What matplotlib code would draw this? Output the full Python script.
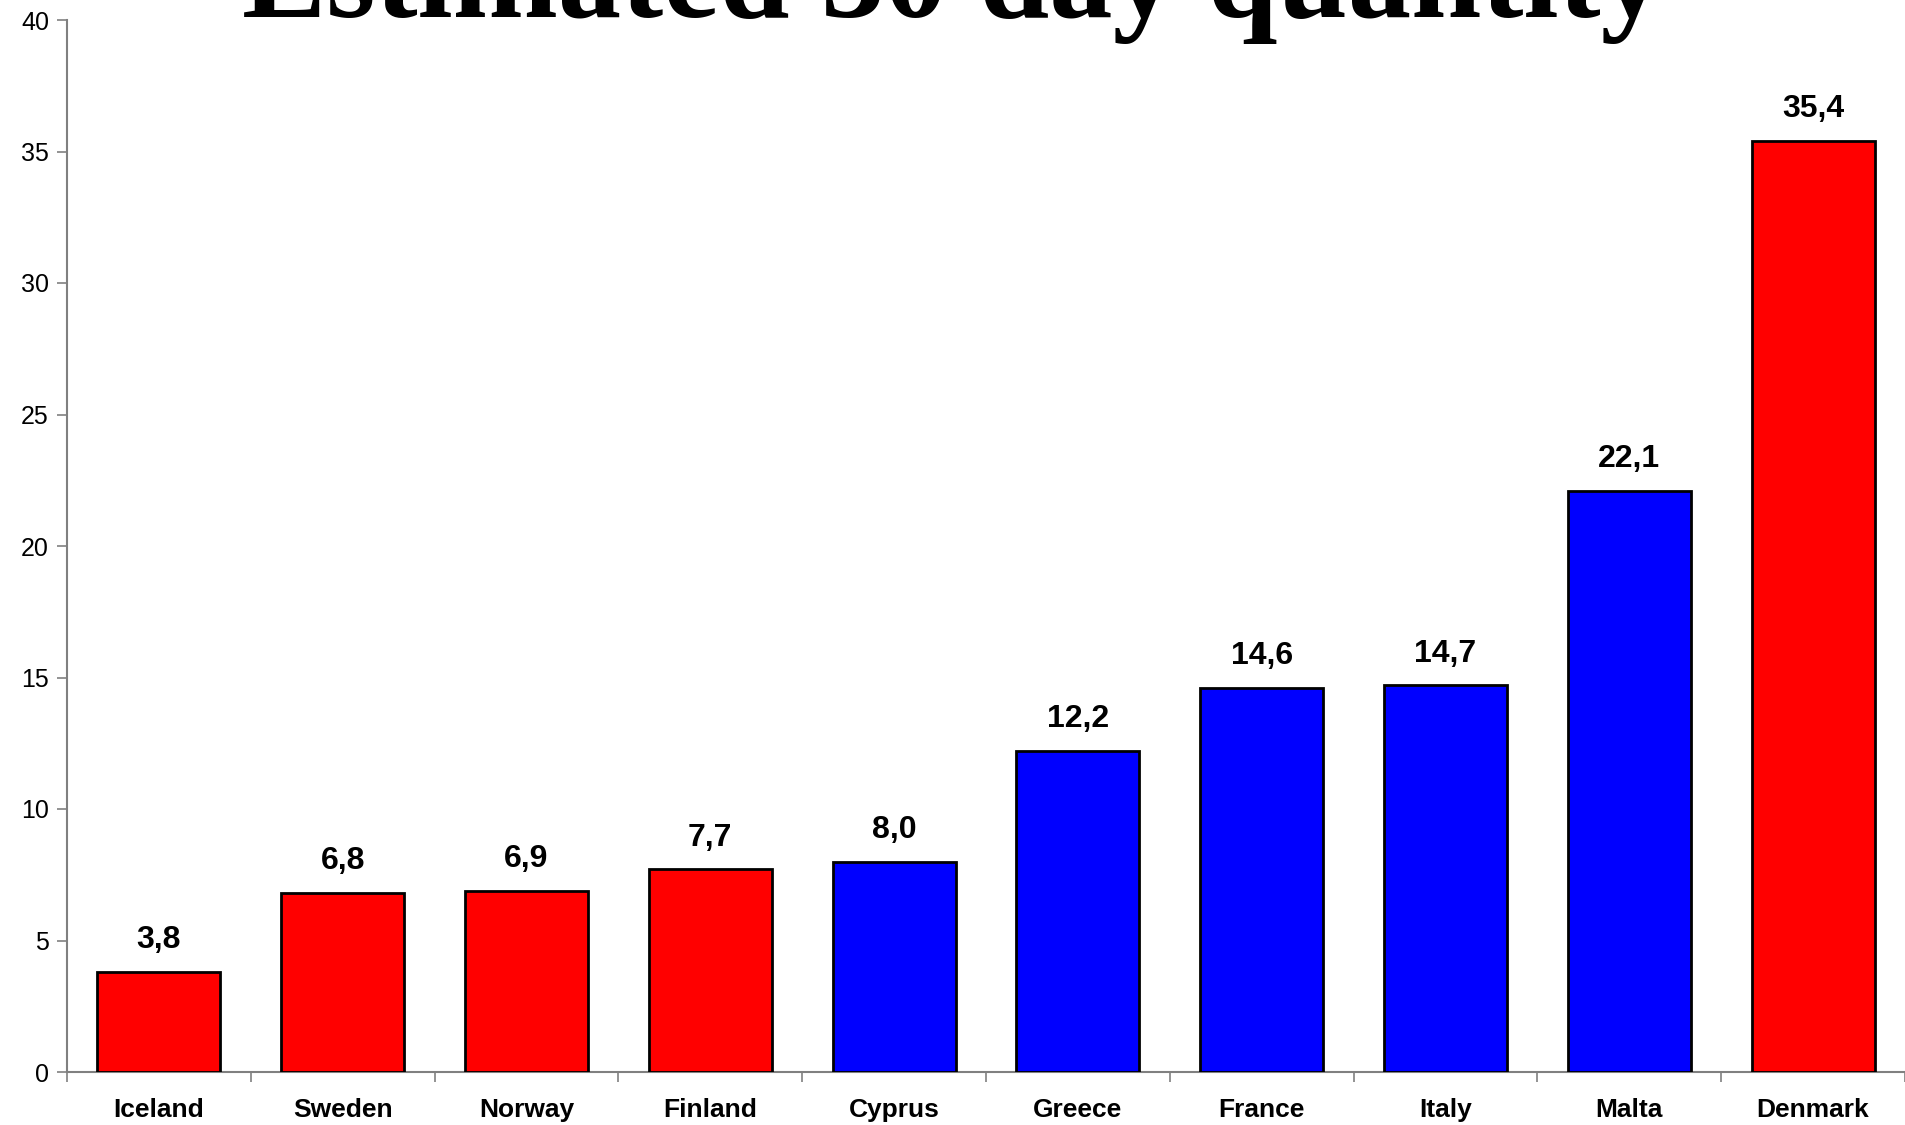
import matplotlib.pyplot as plt
from matplotlib.ticker import FixedLocator

plt.rcParams['font.family'] = "sans-serif"
plt.rcParams['font.sans-serif'] = "Liberation Sans"

countries = ['Iceland', 'Sweden', 'Norway', 'Finland', 'Cyprus',
             'Greece', 'France', 'Italy', 'Malta', 'Denmark']
values = [3.8, 6.8, 6.9, 7.7, 8.0, 12.2, 14.6, 14.7, 22.1, 35.4]
colors = ['#FF0000', '#FF0000', '#FF0000', '#FF0000', '#0000FF',
          '#0000FF', '#0000FF', '#0000FF', '#0000FF', '#FF0000']

fig = plt.figure(figsize=(19.05, 11.25), dpi=100)
ax = fig.add_axes([67 / 1905, 1 - 1072 / 1125, 1 - 67 / 1905, (1072 - 20) / 1125])

x = range(len(countries))
bars = ax.bar(x, values, width=0.67, color=colors, edgecolor='black', linewidth=2, zorder=3)

for xi, v in zip(x, values):
    ax.annotate(f"{v:.1f}".replace('.', ','), (xi, v), xytext=(0, 12),
                textcoords='offset points', ha='center', va='bottom',
                fontsize=23, fontweight='bold')

ax.set_xlim(-0.5, len(countries) - 0.5)
ax.set_ylim(0, 40)
ax.set_yticks(range(0, 41, 5))
ax.set_xticks(list(x))
ax.set_xticklabels(countries, fontsize=19, fontweight='bold')
ax.xaxis.set_minor_locator(FixedLocator([i - 0.5 for i in range(len(countries) + 1)]))
ax.tick_params(axis='x', which='major', length=0, pad=19)
ax.tick_params(axis='x', which='minor', length=7, width=1.2, color='#808080')
ax.tick_params(axis='y', length=7, width=1.2, color='#808080', labelsize=18, pad=6)

for side in ['top', 'right']:
    ax.spines[side].set_visible(False)
for side in ['left', 'bottom']:
    ax.spines[side].set_color('#808080')
    ax.spines[side].set_linewidth(1.5)

fig.text(0.5, 1 - 17 / 1125, 'Estimated 30 day quantity', ha='center', va='baseline',
         fontsize=91, fontweight='bold', family='Liberation Serif')

fig.savefig('out.png', dpi=100)
